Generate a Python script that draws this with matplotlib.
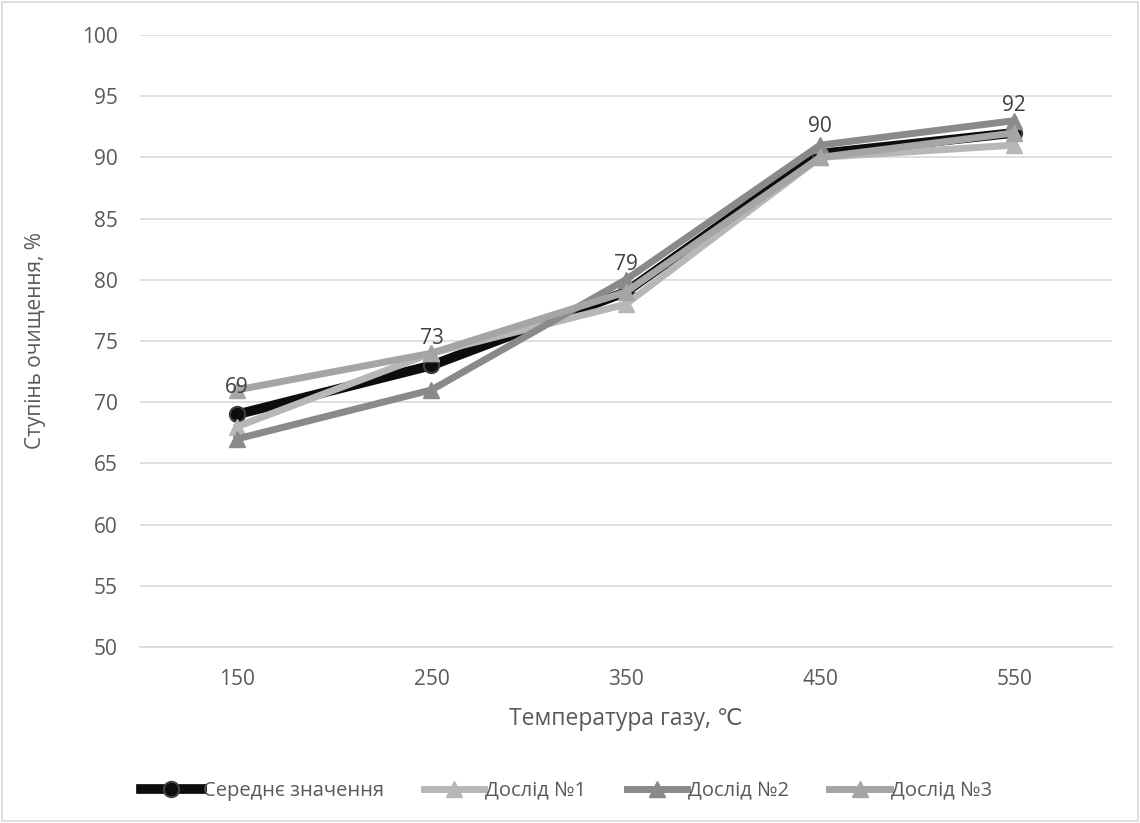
import matplotlib.pyplot as plt
import numpy as np

plt.rcParams['font.family'] = ['Open Sans', 'DejaVu Sans']

temps = ['150', '250', '350', '450', '550']
avg = [69, 73, 79, 90.3, 92]
exp1 = [68, 74, 78, 90, 91]
exp2 = [67, 71, 80, 91, 93]
exp3 = [71, 74, 79, 90, 92]
avg_labels = ['69', '73', '79', '90', '92']

fig = plt.figure(figsize=(11.4, 8.23), dpi=100)
ax = fig.add_axes([0.1228, 0.2139, 0.8522, 0.7436])

x = np.arange(len(temps))
ax.plot(x, avg, color='#0d0d0d', lw=7, marker='o', ms=11,
        mfc='#0d0d0d', mec='#404040', mew=1.5, label='Середнє значення', zorder=3)
ax.plot(x, exp1, color='#b7b7b7', lw=5, marker='^', ms=12,
        mfc='#b7b7b7', mec='#b7b7b7', label='Дослід №1', zorder=4)
ax.plot(x, exp2, color='#8a8a8a', lw=5, marker='^', ms=12,
        mfc='#8a8a8a', mec='#8a8a8a', label='Дослід №2', zorder=5)
ax.plot(x, exp3, color='#a5a5a5', lw=5, marker='^', ms=12,
        mfc='#a5a5a5', mec='#a5a5a5', label='Дослід №3', zorder=6)

# підписи середніх значень
for i, v in enumerate(avg):
    ax.annotate(avg_labels[i], (x[i], v), xytext=(0, 12), textcoords='offset points',
                ha='center', va='bottom', fontsize=15, color='#404040', zorder=7)

ax.set_xlim(-0.5, len(temps) - 0.5)
ax.set_ylim(50, 100)
ax.set_yticks(np.arange(50, 101, 5))
ax.set_xticks(x)
ax.set_xticklabels(temps)
ax.grid(axis='y', color='#d9d9d9', lw=1.2)
ax.set_axisbelow(True)
for s in ['top', 'right', 'left']:
    ax.spines[s].set_visible(False)
ax.spines['bottom'].set_color('#d9d9d9')
ax.spines['bottom'].set_linewidth(1.2)
ax.tick_params(axis='y', length=0, labelsize=15, colors='#595959', pad=16)
ax.tick_params(axis='x', length=0, labelsize=15, colors='#595959', pad=16)

ax.set_ylabel('Ступінь очищення, %', fontsize=15, color='#595959', labelpad=26)
ax.set_xlabel('Температура газу, ℃', fontsize=16.5, color='#595959', labelpad=12)

fig.legend(loc='lower center', bbox_to_anchor=(0.497, 0.005), ncol=4, frameon=False,
           fontsize=14.5, handlelength=3.0, handletextpad=0.05, columnspacing=2.0,
           labelcolor='#595959')

fig.patches.append(plt.Rectangle((0.002, 0.002), 0.996, 0.996, transform=fig.transFigure,
                                 fill=False, ec='#d9d9d9', lw=1.2))

fig.savefig('out.png', dpi=100, facecolor='white')
